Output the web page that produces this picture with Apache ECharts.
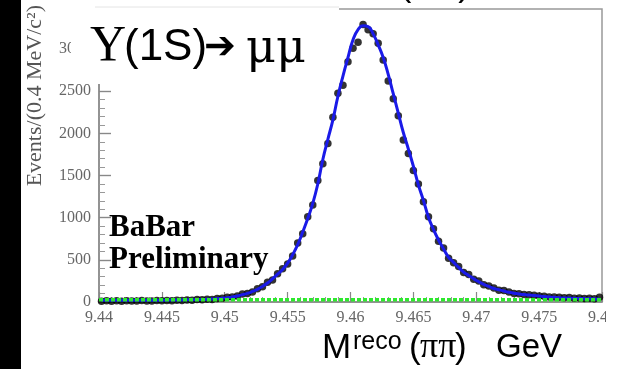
<!DOCTYPE html>
<html>
<head>
<meta charset="utf-8">
<script src="https://cdn.jsdelivr.net/npm/echarts@6/dist/echarts.min.js"></script>
<style>html,body{margin:0;padding:0;background:#fff;}#c{width:619px;height:369px;}</style>
</head>
<body>
<div id="c"></div>
<script>
// Histogram binning (0.4 MeV bins from 9.44 to 9.48 GeV)
const binStart = 9.44;
const binWidth = 0.0004;
// Data points (events per bin)
const dataCounts = [8,15,10,14,9,16,12,11,17,13,
  12,18,14,19,15,22,18,25,21,30,
  26,33,31,42,44,55,58,70,95,100,
  120,158,180,235,262,335,395,450,545,700,
  810,1010,1150,1440,1640,1880,2190,2475,2570,2850,
  3010,3080,3290,3230,3180,3070,2870,2620,2410,2210,
  1920,1760,1560,1400,1190,1010,870,720,640,520,
  465,420,350,325,270,250,205,190,165,140,
  135,120,100,98,90,85,80,72,68,60,
  58,55,50,52,45,48,42,45,40,55];
// Fit curve (total pdf) sampled at bin centres
const fitCurve = [20,20,20,20,20,20,20,20,20,20,
  21,21,22,22,23,24,25,26,27,28,
  30,32,35,40,45,51,60,72,87,103,
  125,150,185,225,275,330,385,460,560,680,
  830,990,1170,1400,1690,1930,2160,2440,2680,2900,
  3110,3230,3275,3265,3180,3050,2900,2700,2470,2240,
  2010,1815,1610,1390,1205,1005,860,735,630,530,
  470,410,355,315,275,240,210,185,160,145,
  130,115,105,95,88,82,76,70,64,59,
  55,51,48,46,44,42,40,38,37,36];
// Background component (green dashed)
const bgX = [9.44, 9.48];
const bgY = [26, 28];
// Axis tick labels
const xTicks = [9.44, 9.445, 9.45, 9.455, 9.46, 9.465, 9.47, 9.475, 9.48];
const yTicks = [0, 500, 1000, 1500, 2000, 2500, 3000];

const centers = dataCounts.map((_, i) => +(binStart + binWidth * (i + 0.5)).toFixed(5));
const dataPts = centers.map((x, i) => [x, dataCounts[i]]);
const curvePts = centers.map((x, i) => [x, fitCurve[i]]);
const bgPts = bgX.map((x, i) => [x, bgY[i]]);

const chart = echarts.init(document.getElementById('c'), null, {renderer: 'canvas'});
const serif = 'Liberation Serif';
chart.setOption({
  animation: false,
  backgroundColor: '#ffffff',
  grid: {left: 99, right: 12, top: 9, bottom: 67, show: true, borderColor: '#999', borderWidth: 1.5},
  xAxis: {
    type: 'value', min: 9.44, max: 9.48, interval: 0.005,
    axisLine: {show: true, lineStyle: {color: '#888', width: 1.5}},
    axisTick: {show: true, inside: true, length: 10, lineStyle: {color: '#888', width: 1.2}},
    minorTick: {show: true, splitNumber: 5, length: 5, lineStyle: {color: '#999'}},
    splitLine: {show: false},
    axisLabel: {color: '#666', fontFamily: serif, fontSize: 16, margin: 8,
      customValues: xTicks, formatter: v => String(+v.toFixed(3))}
  },
  yAxis: {
    type: 'value', min: 0, max: 3475, interval: 500,
    axisLine: {show: true, lineStyle: {color: '#888', width: 1.5}},
    axisTick: {show: true, inside: true, length: 12, lineStyle: {color: '#888', width: 1.4}},
    minorTick: {show: true, splitNumber: 5, length: 6, lineStyle: {color: '#999'}},
    splitLine: {show: false},
    axisLabel: {color: '#666', fontFamily: serif, fontSize: 16, margin: 8, customValues: yTicks,
      formatter: v => String(v)}
  },
  series: [
    {type: 'scatter', data: dataPts, symbol: 'circle', symbolSize: 7.5,
      itemStyle: {color: '#000'}, z: 2},
    {type: 'line', data: curvePts, smooth: true, symbol: 'none',
      lineStyle: {color: '#1a1ae8', width: 3}, z: 3},
    {type: 'line', data: bgPts, symbol: 'none',
      lineStyle: {color: '#2ee82e', width: 3.5, type: [4, 2]}, z: 4}
  ],
  graphic: [
    {type: 'rect', shape: {x: 0, y: 0, width: 21, height: 369}, style: {fill: '#000'}, z: 100},
    {type: 'rect', shape: {x: 71, y: 7, width: 268, height: 77}, style: {fill: '#fff'}, z: 100},
    {type: 'line', shape: {x1: 95, y1: 7, x2: 339, y2: 7}, style: {stroke: '#e4e4e4', lineWidth: 1}, z: 101},
    {type: 'rect', shape: {x: 606, y: 306, width: 13, height: 24}, style: {fill: '#fff'}, z: 100},
    // title
    {type: 'text', x: 90, y: 47, z: 102, style: {text: 'Υ', font: '50px "Liberation Serif"', fill: '#000', verticalAlign: 'middle'}},
    {type: 'text', x: 124, y: 48, z: 102, style: {text: '(1S)', font: '44px "Liberation Sans"', fill: '#000', verticalAlign: 'middle'}},
    {type: 'text', x: 204, y: 48, z: 102, style: {text: '➔', font: '38px "DejaVu Sans"', fill: '#000', verticalAlign: 'middle'}},
    {type: 'text', x: 246, y: 50, z: 102, style: {text: 'μμ', font: '46px "DejaVu Serif"', fill: '#000', verticalAlign: 'middle'}},
    // cut text at top
    {type: 'text', x: 400, y: -13, z: 102, style: {text: '(ππ)', font: '34px "Liberation Sans"', fill: '#000', verticalAlign: 'middle'}},
    // y axis title
    {type: 'text', x: 35, y: 5, rotation: Math.PI / 2, z: 102,
      style: {text: 'Events/(0.4 MeV/c²)', font: '22px "Liberation Serif"', fill: '#555', align: 'right', verticalAlign: 'middle'}},
    // BaBar Preliminary
    {type: 'text', x: 109, y: 228, z: 102, style: {text: 'BaBar', font: 'bold 31px "Liberation Serif"', fill: '#000', verticalAlign: 'middle'}},
    {type: 'text', x: 109, y: 260, z: 102, style: {text: 'Preliminary', font: 'bold 31px "Liberation Serif"', fill: '#000', verticalAlign: 'middle'}},
    // x axis title
    {type: 'text', x: 322, y: 348, z: 102, style: {text: 'M', font: '35px "Liberation Sans"', fill: '#000', verticalAlign: 'middle'}},
    {type: 'text', x: 353, y: 342, z: 102, style: {text: 'reco', font: '25px "Liberation Sans"', fill: '#000', verticalAlign: 'middle'}},
    {type: 'text', x: 409, y: 348, z: 102, style: {text: '(', font: '35px "Liberation Sans"', fill: '#000', verticalAlign: 'middle'}},
    {type: 'text', x: 420, y: 348, z: 102, style: {text: 'ππ', font: '36px "Liberation Serif"', fill: '#000', verticalAlign: 'middle'}},
    {type: 'text', x: 455, y: 348, z: 102, style: {text: ')', font: '35px "Liberation Sans"', fill: '#000', verticalAlign: 'middle'}},
    {type: 'text', x: 496, y: 348, z: 102, style: {text: 'GeV', font: '33px "Liberation Sans"', fill: '#000', verticalAlign: 'middle'}}
  ]
});
</script>
</body>
</html>
